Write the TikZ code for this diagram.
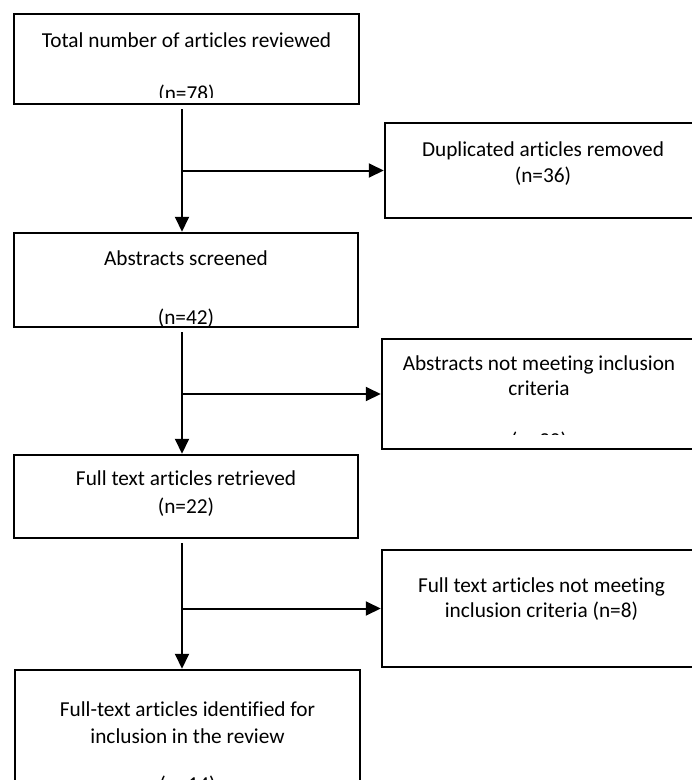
\documentclass[tikz,border=0pt]{standalone}
\usepackage{fontspec}
\setmainfont{Carlito}[Ligatures=NoCommon]
\usetikzlibrary{arrows.meta}
\begin{document}
\begin{tikzpicture}[x=1pt,y=-1pt,
  box/.style={draw,line width=2.5pt,inner sep=0pt},
  txt/.style={anchor=base,inner sep=0pt,font=\fontsize{21.3}{26}\selectfont},
  conn/.style={line width=2pt},
  arr/.style={conn,-{Triangle[length=15pt,width=14pt]}}]
\clip (0,0) rectangle (692,780);
% boxes
\node[box,minimum width=345pt,minimum height=90pt]  (b1) at (186.5,59)   {};
\node[box,minimum width=316pt,minimum height=95pt]  (b2) at (543,170.5)  {};
\node[box,minimum width=344pt,minimum height=94pt]  (b3) at (186,280)    {};
\node[box,minimum width=314pt,minimum height=110pt] (b4) at (539,394)    {};
\node[box,minimum width=344pt,minimum height=83pt]  (b5) at (186,496.5)  {};
\node[box,minimum width=319pt,minimum height=117pt] (b6) at (541.5,608.5){};
\node[box,minimum width=345pt,minimum height=150pt] (b7) at (187.5,745)  {};
% texts
\begin{scope}
  \clip (14,14) rectangle (359,97);
  \node[txt] (t1a) at (186.5,47) {Total number of articles reviewed};
  \node[txt] (t1b) at (186.5,100) {(n=78)};
\end{scope}
\node[txt] (t2a) at (543,156) {Duplicated articles removed};
\node[txt] (t2b) at (543,182) {(n=36)};
\begin{scope}
  \clip (14,233) rectangle (358,325.5);
  \node[txt] (t3a) at (186,265) {Abstracts screened};
  \node[txt] (t3b) at (186,324) {(n=42)};
\end{scope}
\begin{scope}
  \clip (382,339) rectangle (696,434);
  \node[txt] (t4a) at (539,370) {Abstracts not meeting inclusion};
  \node[txt] (t4b) at (539,395) {criteria};
  \node[txt] (t4c) at (539,447) {(n=30)};
\end{scope}
\node[txt] (t5a) at (186,485) {Full text articles retrieved};
\node[txt] (t5b) at (186,513) {(n=22)};
\node[txt] (t6a) at (541.5,592) {Full text articles not meeting};
\node[txt] (t6b) at (541.5,617) {inclusion criteria (n=8)};
\node[txt] (t7a) at (187.5,716) {Full-text articles identified for};
\node[txt] (t7b) at (187.5,743) {inclusion in the review};
\node[txt] (t7c) at (187.5,791) {(n=14)};
% connectors
\coordinate (v1) at (182,109);
\coordinate (v2) at (182,332);
\coordinate (v3) at (182,543);
\draw[arr] (v1) -- (v1 |- b3.north);
\draw[arr] (v1 |- b2.west) -- (b2.west);
\draw[arr] (v2) -- (v2 |- b5.north);
\draw[arr] (v2 |- b4.west) -- (b4.west);
\draw[arr] (v3) -- (v3 |- b7.north);
\draw[arr] (v3 |- b6.west) -- (b6.west);
\end{tikzpicture}
\end{document}
